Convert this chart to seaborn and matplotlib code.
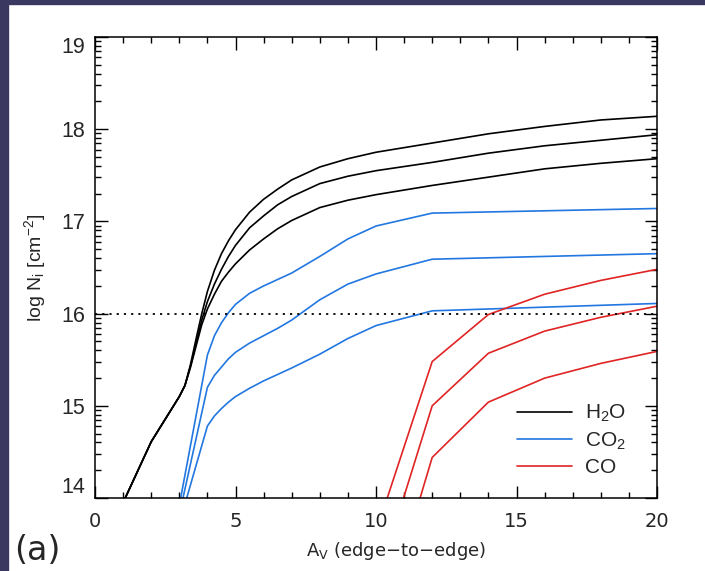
import numpy as np
import pandas as pd
import seaborn as sns
import matplotlib
matplotlib.use("Agg")
import matplotlib.pyplot as plt
from matplotlib.lines import Line2D
from matplotlib.patches import Rectangle
from matplotlib.ticker import FixedLocator, MultipleLocator

# Column densities (log10 N, cm^-2) versus edge-to-edge extinction A_V
av_h2o = [1, 2, 3, 3.2, 3.4, 3.6, 3.8, 4.0, 4.25, 4.5, 4.75, 5, 5.5, 6, 6.5, 7,
          8, 9, 10, 12, 14, 16, 18, 20]
h2o_high = [13.95, 14.61, 15.10, 15.22, 15.45, 15.73, 16.00, 16.24, 16.47, 16.65,
            16.79, 16.91, 17.10, 17.24, 17.35, 17.45, 17.59, 17.68, 17.75, 17.85,
            17.95, 18.03, 18.10, 18.14]
h2o_mid = [13.95, 14.61, 15.10, 15.22, 15.43, 15.68, 15.93, 16.13, 16.32, 16.48,
           16.62, 16.74, 16.93, 17.06, 17.18, 17.27, 17.41, 17.49, 17.55, 17.64,
           17.74, 17.82, 17.88, 17.94]
h2o_low = [13.95, 14.61, 15.10, 15.22, 15.42, 15.65, 15.88, 16.05, 16.21, 16.35,
           16.45, 16.54, 16.69, 16.81, 16.92, 17.01, 17.15, 17.23, 17.29, 17.39,
           17.48, 17.57, 17.63, 17.68]

av_co2 = [3, 4, 4.25, 4.5, 4.75, 5, 5.5, 6, 6.5, 7, 8, 9, 10, 12, 20]
co2_high = [13.92, 15.55, 15.76, 15.90, 16.01, 16.10, 16.22, 16.30, 16.37, 16.44,
            16.62, 16.81, 16.95, 17.09, 17.14]
co2_mid = [13.82, 15.20, 15.33, 15.42, 15.51, 15.58, 15.68, 15.76, 15.84, 15.93,
           16.15, 16.32, 16.43, 16.59, 16.65]
co2_low = [13.72, 14.78, 14.89, 14.97, 15.04, 15.10, 15.19, 15.27, 15.34, 15.41,
           15.56, 15.73, 15.87, 16.03, 16.11]

av_co = [10, 12, 14, 16, 18, 20]
co_high = [13.63, 15.48, 15.99, 16.21, 16.36, 16.48]
co_mid = [13.04, 15.00, 15.57, 15.81, 15.96, 16.08]
co_low = [12.40, 14.44, 15.04, 15.30, 15.46, 15.59]

species = ["H$_2$O", "CO$_2$", "CO"]
colors = ["#000000", "#2277e0", "#e02424"]
threshold = 16.0

rows = []
for sp, av, runs in [
    (species[0], av_h2o, [h2o_high, h2o_mid, h2o_low]),
    (species[1], av_co2, [co2_high, co2_mid, co2_low]),
    (species[2], av_co, [co_high, co_mid, co_low]),
]:
    for k, vals in enumerate(runs):
        for a, v in zip(av, vals):
            rows.append({"species": sp, "run": f"{sp}-{k}", "Av": a, "logN": v})
df = pd.DataFrame(rows)

sns.set_theme(style="ticks")
plt.rcParams["font.family"] = ["Liberation Sans", "DejaVu Sans"]
plt.rcParams["mathtext.default"] = "regular"

W, H = 705, 571
fig = plt.figure(figsize=(W / 100, H / 100), dpi=100)
fig.patch.set_facecolor("white")
# slide frame along the top and left edges
fig.patches.append(Rectangle((0, 0), 8 / W, 1, transform=fig.transFigure,
                             color="#3a3860", zorder=0))
fig.patches.append(Rectangle((0, 1 - 4 / H), 1, 4 / H, transform=fig.transFigure,
                             color="#3a3860", zorder=0))

L, R, T, B = 95, 657, 37, 498
ax = fig.add_axes([L / W, 1 - B / H, (R - L) / W, (B - T) / H])

sns.lineplot(data=df, x="Av", y="logN", hue="species", units="run",
             estimator=None, sort=False, palette=dict(zip(species, colors)),
             linewidth=1.2, legend=False, ax=ax)
ax.axhline(threshold, color="black", lw=1.3, linestyle=(0, (1.2, 2.8)))

ax.set_xlim(0, 20)
ax.set_ylim(14, 19)
ax.set_xticks([0, 5, 10, 15, 20])
ax.xaxis.set_minor_locator(MultipleLocator(1))
ax.set_yticks(range(14, 20))
ax.yaxis.set_minor_locator(FixedLocator(
    [d + np.log10(k) for d in range(14, 19) for k in range(2, 10)]))
ax.tick_params(which="both", direction="in", top=True, right=True,
               color="black", width=1.0)
ax.tick_params(which="major", length=9)
ax.tick_params(which="minor", length=4.5)
ax.tick_params(axis="y", which="major", labelsize=15.5, pad=7)
ax.tick_params(axis="x", which="major", labelsize=14, pad=10)
for s in ax.spines.values():
    s.set_color("black")
    s.set_linewidth(1.1)

for lab in ax.get_xticklabels():
    lab.set_fontfamily("DejaVu Sans")
ylabs = ax.get_yticklabels()
ylabs[0].set_va("bottom")
ylabs[-1].set_va("top")

ax.set_xlabel("A$_{V}$ (edge\u2212to\u2212edge)", fontsize=13, family="DejaVu Sans",
              va="center")
ax.xaxis.set_label_coords((396 - L) / (R - L), (B - 551) / (B - T))
ax.set_ylabel("log N$_{i}$ [cm$^{-2}$]", fontsize=14, va="center")
ax.yaxis.set_label_coords((35 - L) / (R - L), 0.5)

handles = [Line2D([], [], color=c, lw=1.2) for c in colors]
ax.legend(handles, species, loc="upper left",
          bbox_to_anchor=((517 - L) / (R - L), (B - 403) / (B - T)),
          frameon=False, fontsize=15, handlelength=2.65, handletextpad=0.6,
          labelspacing=0.3, borderpad=0, borderaxespad=0)

fig.text(14 / W, 1 - 550 / H, "(a)", fontsize=24, family="DejaVu Sans",
         ha="left", va="center")

fig.savefig("out.png", dpi=100)
